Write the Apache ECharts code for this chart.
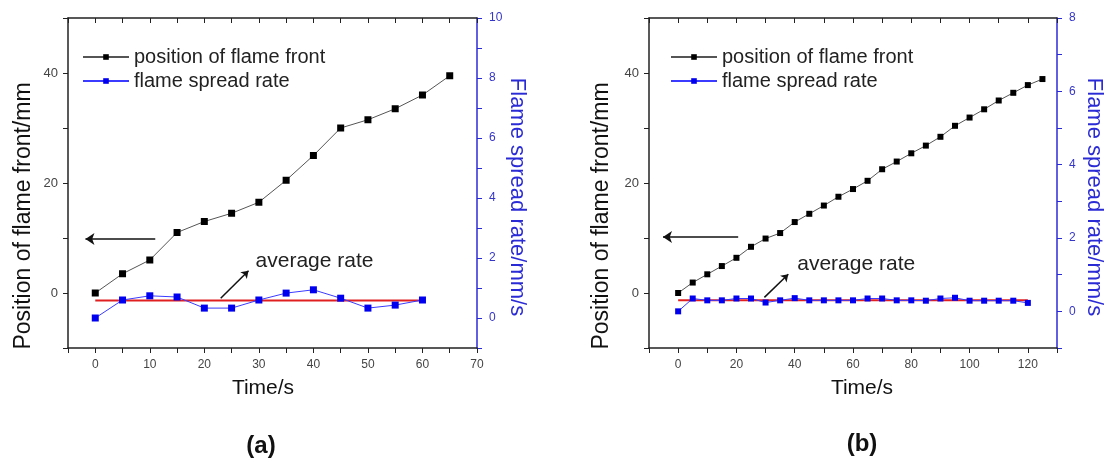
<!DOCTYPE html>
<html>
<head>
<meta charset="utf-8">
<script src="https://cdn.jsdelivr.net/npm/echarts@6/dist/echarts.min.js"></script>
<style>
  html, body { margin: 0; padding: 0; background: #fff; }
  #chart { width: 1106px; height: 463px; }
</style>
</head>
<body>
<div id="chart"></div>
<script>
// (a) data
var timeA = [0, 5, 10, 15, 20, 25, 30, 35, 40, 45, 50, 55, 60, 65];
var posA = [0, 3.5, 6, 11, 13, 14.5, 16.5, 20.5, 25, 30, 31.5, 33.5, 36, 39.5];
var rateTimeA = [0, 5, 10, 15, 20, 25, 30, 35, 40, 45, 50, 55, 60];
var rateA = [0, 0.6, 0.74, 0.7, 0.33, 0.33, 0.6, 0.83, 0.94, 0.66, 0.33, 0.43, 0.6];
var avgSpanA = [0, 60];
var avgRateA = 0.58;

// (b) data
var timeB = [0, 5, 10, 15, 20, 25, 30, 35, 40, 45, 50, 55, 60, 65, 70, 75, 80, 85, 90, 95, 100, 105, 110, 115, 120, 125];
var posB = [0, 1.9, 3.4, 4.9, 6.4, 8.4, 9.9, 10.9, 12.9, 14.4, 15.9, 17.5, 18.9, 20.4, 22.5, 23.9, 25.4, 26.8, 28.4, 30.4, 31.9, 33.4, 35.0, 36.4, 37.8, 38.9];
var rateTimeB = [0, 5, 10, 15, 20, 25, 30, 35, 40, 45, 50, 55, 60, 65, 70, 75, 80, 85, 90, 95, 100, 105, 110, 115, 120];
var rateB = [0, 0.35, 0.30, 0.30, 0.35, 0.35, 0.24, 0.30, 0.36, 0.30, 0.30, 0.30, 0.30, 0.35, 0.35, 0.30, 0.30, 0.29, 0.35, 0.37, 0.29, 0.29, 0.29, 0.29, 0.23];
var avgSpanB = [0, 120];
var avgRateB = 0.30;

// annotations (data coords: time, position)
var leftArrowA = [[-1.8, 9.8], [11, 9.8]];
var pointerA = [[23, -0.96], [28.1, 4.05]];
var avgLabelA = [29.3, 5.7];
var leftArrowB = [[-5.2, 10.2], [20.6, 10.2]];
var pointerB = [[29.6, -0.8], [37.8, 3.4]];
var avgLabelB = [40.7, 5.2];

var legendNames = ['position of flame front', 'flame spread rate'];
var FONT = 'Liberation Sans, Arial, sans-serif';
var BLUE = '#2b2bd6';

function pairs(xs, ys) {
  return xs.map(function (x, i) { return [x, ys[i]]; });
}

function every(step, lo, hi) {
  return function (v) {
    return (v % step === 0 && v >= lo && v <= hi) ? String(v) : '';
  };
}

function xAxes(grid, min, max, step, lo, hi) {
  return [{
    gridIndex: grid, type: 'value', min: min, max: max, interval: step / 2,
    axisLine: { onZero: false, lineStyle: { color: '#222', width: 1.5 } },
    axisTick: { length: 5, lineStyle: { color: '#222' } },
    axisLabel: { formatter: every(step, lo, hi), color: '#444', fontSize: 12, fontFamily: FONT, margin: 11 },
    splitLine: { show: false }
  }, {
    gridIndex: grid, type: 'value', position: 'top', min: min, max: max, interval: step / 2,
    axisLine: { onZero: false, lineStyle: { color: '#222', width: 1.5 } },
    axisTick: { inside: true, length: 5, lineStyle: { color: '#222' } },
    axisLabel: { show: false },
    splitLine: { show: false }
  }];
}

function yAxes(grid, rmax) {
  return [{
    gridIndex: grid, type: 'value', min: -10, max: 50, interval: 10,
    axisLine: { show: true, onZero: false, lineStyle: { color: '#222', width: 1.5 } },
    axisTick: { show: true, length: 5, lineStyle: { color: '#222' } },
    axisLabel: { formatter: every(20, 0, 40), color: '#444', fontSize: 13, fontFamily: FONT, margin: 10 },
    splitLine: { show: false }
  }, {
    gridIndex: grid, type: 'value', position: 'right', min: -1, max: rmax, interval: 1,
    axisLine: { show: true, onZero: false, lineStyle: { color: BLUE, width: 1.5 } },
    axisTick: { show: true, length: 5, lineStyle: { color: BLUE } },
    axisLabel: { formatter: every(2, 0, rmax), color: '#3535c8', fontSize: 12, fontFamily: FONT, margin: 12 },
    splitLine: { show: false }
  }];
}

function panelSeries(k, times, pos, rTimes, rate, span, avg, arrow, pointer, labelAt, sym) {
  var xi = k * 2, yi = k * 2;
  return [{
    name: legendNames[0], type: 'line', xAxisIndex: xi, yAxisIndex: yi,
    data: pairs(times, pos),
    symbol: 'rect', symbolSize: sym,
    lineStyle: { color: '#555', width: 1 },
    itemStyle: { color: '#000' },
    z: 4,
    markLine: {
      silent: true, animation: false,
      label: { show: false },
      data: [
        [{ coord: arrow[0], symbol: 'arrow', symbolSize: 9 }, { coord: arrow[1], symbol: 'none' }],
        [{ coord: pointer[0], symbol: 'none' }, { coord: pointer[1], symbol: 'arrow', symbolSize: 7 }]
      ],
      lineStyle: { color: '#111', width: 1.5, type: 'solid' }
    },
    markPoint: {
      silent: true, animation: false,
      data: [{ coord: labelAt, symbol: 'rect', symbolSize: 1, itemStyle: { color: 'rgba(0,0,0,0)' } }],
      label: {
        show: true, position: 'right', distance: 0, formatter: 'average rate',
        color: '#222', fontSize: 21, fontFamily: FONT
      }
    }
  }, {
    name: legendNames[1], type: 'line', xAxisIndex: xi, yAxisIndex: yi + 1,
    data: pairs(rTimes, rate),
    symbol: 'rect', symbolSize: sym,
    lineStyle: { color: '#3b3bff', width: 1 },
    itemStyle: { color: '#0000ee' },
    z: 5
  }, {
    name: 'average', type: 'line', xAxisIndex: xi, yAxisIndex: yi + 1,
    data: span.map(function (t) { return [t, avg]; }),
    symbol: 'none',
    lineStyle: { color: '#e02020', width: 2 },
    z: 3
  }];
}

function legendAt(left) {
  return {
    data: legendNames, orient: 'vertical', left: left, top: 47, padding: 0,
    itemWidth: 46, itemHeight: 7, itemGap: 4,
    textStyle: { fontSize: 20, fontFamily: FONT, color: '#222' },
    selectedMode: false
  };
}

function textG(x, y, text, size, rot, color, weight) {
  return {
    type: 'text', x: x, y: y, rotation: rot,
    style: {
      text: text, fontSize: size, fontFamily: FONT, fill: color,
      fontWeight: weight || 'normal', align: 'center', verticalAlign: 'middle'
    }
  };
}

var chart = echarts.init(document.getElementById('chart'));
chart.setOption({
  animation: false,
  grid: [
    { left: 68, top: 18, width: 409, height: 330 },
    { left: 649, top: 18, width: 408, height: 330 }
  ],
  legend: [legendAt(82), legendAt(670)],
  xAxis: xAxes(0, -5, 70, 10, 0, 70).concat(xAxes(1, -10, 130, 20, 0, 120)),
  yAxis: yAxes(0, 10).concat(yAxes(1, 8)),
  series: panelSeries(0, timeA, posA, rateTimeA, rateA, avgSpanA, avgRateA, leftArrowA, pointerA, avgLabelA, 7)
    .concat(panelSeries(1, timeB, posB, rateTimeB, rateB, avgSpanB, avgRateB, leftArrowB, pointerB, avgLabelB, 6)),
  graphic: [
    textG(24, 216, 'Position of flame front/mm', 23, Math.PI / 2, '#111'),
    textG(517, 197, 'Flame spread rate/mm/s', 22, -Math.PI / 2, BLUE),
    textG(263, 388, 'Time/s', 21, 0, '#111'),
    textG(261, 446, '(a)', 24, 0, '#111', 'bold'),
    textG(602, 216, 'Position of flame front/mm', 23, Math.PI / 2, '#111'),
    textG(1094, 197, 'Flame spread rate/mm/s', 22, -Math.PI / 2, BLUE),
    textG(862, 388, 'Time/s', 21, 0, '#111'),
    textG(862, 444, '(b)', 24, 0, '#111', 'bold')
  ]
});
</script>
</body>
</html>
